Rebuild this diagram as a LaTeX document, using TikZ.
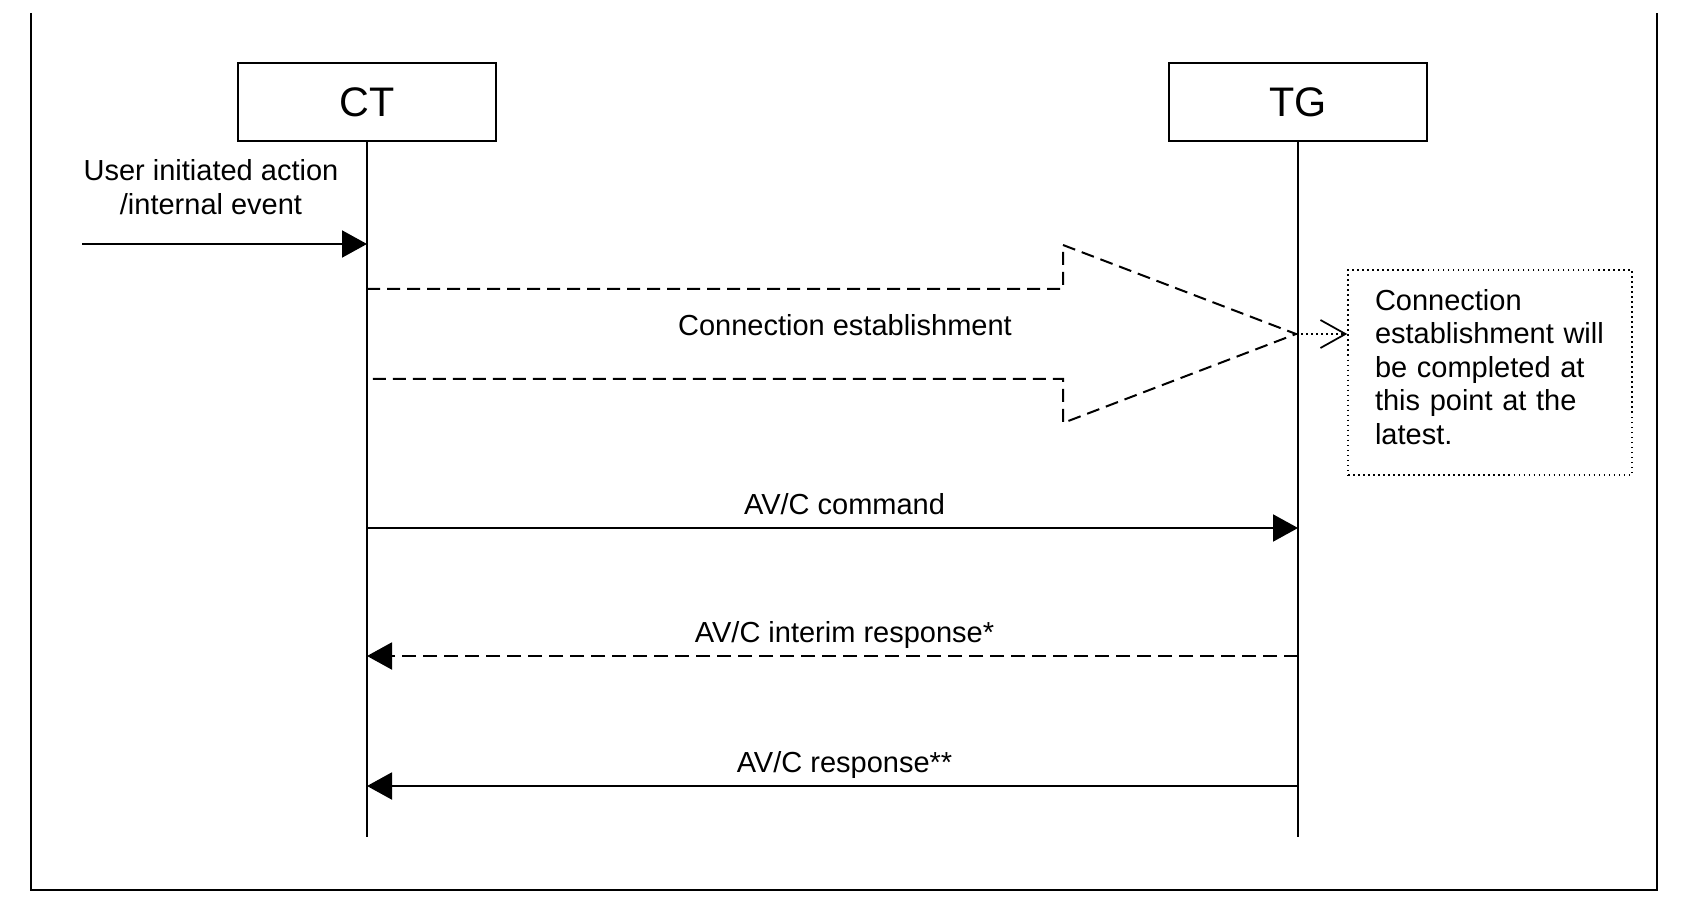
\documentclass[tikz,border=0pt]{standalone}
\usepackage{fontspec}
\setmainfont{Liberation Sans}
\usetikzlibrary{arrows.meta,positioning}
\tikzset{
  entity/.style={draw,line width=0.4mm,minimum width=51.6mm,minimum height=15.6mm,inner sep=0pt,font=\fontsize{23.5}{26}\selectfont},
  life/.style={line width=0.3mm},
  msg/.style={line width=0.4mm,-{Triangle[length=5mm,width=5.4mm]}},
  interim/.style={msg,dash pattern=on 2.8mm off 1.4mm},
  lbl/.style={font=\fontsize{16.5}{19}\selectfont,align=center,inner sep=0pt},
  msglbl/.style={lbl,anchor=base,yshift=2.8mm,xshift=2.4mm},
  bigarrow/.style={line width=0.4mm,dash pattern=on 2.6mm off 1.4mm},
  notebox/.style={draw,dotted,line width=0.3mm,minimum width=56.8mm,minimum height=41mm},
  notetext/.style={text width=46mm,align=left,inner sep=0pt,font=\fontsize{16.5}{19}\selectfont},
  hint/.style={dotted,line width=0.3mm,-{Straight Barb[length=5mm,width=5.6mm,line width=0.35mm]}},
}
\begin{document}
\begin{tikzpicture}[x=0.2mm,y=-0.2mm]
  \useasboundingbox (0,0) rectangle (1698,908);
  % frame, open at the top
  \draw[line width=0.45mm] (31,13) -- (31,890) -- (1657,890) -- (1657,13);

  \node[entity] (ct) at (367,102) {CT};
  \node[entity,right=134.2mm of ct] (tg) {TG};

  % rows
  \coordinate (bottom) at (0,837);
  \coordinate (user) at (82,244);
  \coordinate (m1) at (0,528);
  \coordinate (m2) at (0,656);
  \coordinate (m3) at (0,786);

  \draw[life] (ct.south) -- (ct |- bottom);
  \draw[life] (tg.south) -- (tg |- bottom);

  \node[lbl] (userlbl) at (211,187) {User initiated action\\/internal event};
  \draw[msg] (user) -- (ct |- user);

  % connection establishment
  \coordinate (sa) at (367,289);
  \coordinate (sb) at (1063,289);
  \coordinate (ha) at (1063,245);
  \coordinate (tip) at (1296,334);
  \coordinate (hb) at (1063,423);
  \coordinate (sc) at (1063,379);
  \coordinate (sd) at (367,379);
  \draw[bigarrow] (sa) -- (sb) -- (ha) -- (tip) -- (hb) -- (sc) -- (sd);
  \node[lbl] (conlbl) at (845,325) {Connection establishment};

  \node[notebox] (note) at (1490,372.5) {};
  \node[notetext,yshift=1.1mm] (notetxt) at (note) {Connection\\establishment will\\be completed at\\this point at the\\latest.};
  \draw[hint] (tip) -- (note.west |- tip);

  \draw[msg] (ct |- m1) -- node[msglbl] (cmdlbl) {AV/C command} (tg |- m1);
  \draw[interim] (tg |- m2) -- node[msglbl] (intlbl) {AV/C interim response*} (ct |- m2);
  \draw[msg] (tg |- m3) -- node[msglbl] (rsplbl) {AV/C response**} (ct |- m3);
\end{tikzpicture}
\end{document}
